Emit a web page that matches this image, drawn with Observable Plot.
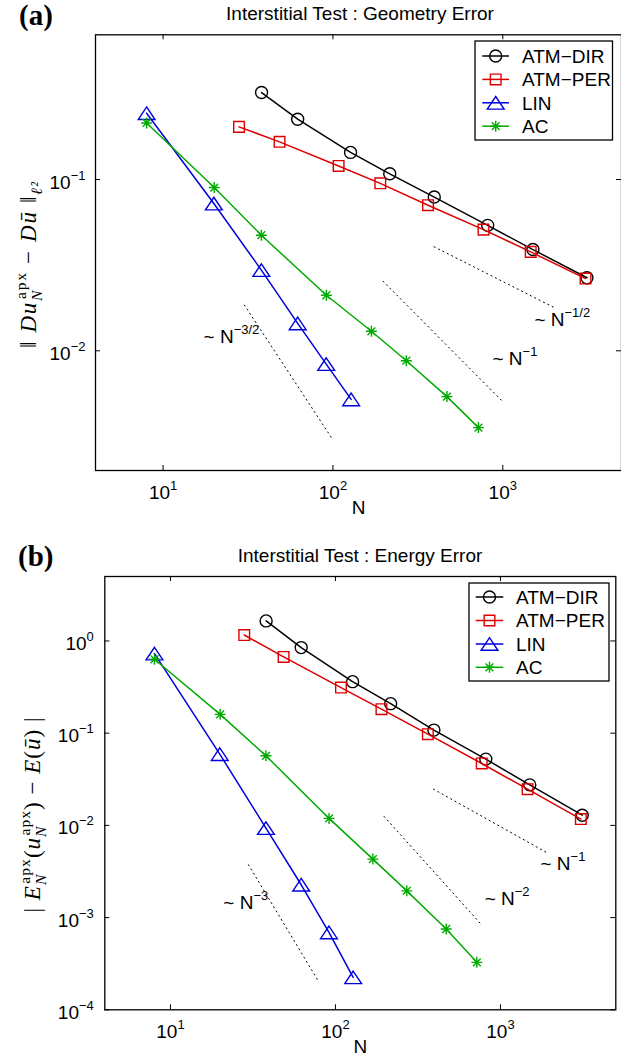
<!DOCTYPE html>
<html>
<head>
<meta charset="utf-8">
<script src="https://cdn.jsdelivr.net/npm/d3@7"></script>
<script src="https://cdn.jsdelivr.net/npm/@observablehq/plot@0.6"></script>
<style>
  html, body { margin: 0; padding: 0; background: #fff; }
  #root { position: relative; width: 621px; height: 1061px; overflow: hidden; background: #fff;
          font-family: "Liberation Sans", Arial, Helvetica, sans-serif; color: #000; }
  .panel { position: absolute; left: 0; }
  .title { position: absolute; transform: translateX(-50%); font-size: 19px; line-height: 19px; white-space: nowrap; }
  .tag { position: absolute; font-family: "Liberation Serif", "Times New Roman", serif; font-weight: bold; font-size: 29px; line-height: 29px; }
</style>
</head>
<body>
<div id="root"></div>
<script>
const FONT = '"Liberation Sans", Arial, Helvetica, sans-serif';
const SERIF = '"Liberation Serif", "Times New Roman", serif';

// ---------- data ----------
const SERIES = ["ATM−DIR", "ATM−PER", "LIN", "AC"];
const COLORS = ["#000000", "#dd0000", "#0000dd", "#00aa00"];

const X_TICKS = [10, 100, 1000];
const GEO_Y_TICKS = [0.1, 0.01];
const EN_Y_TICKS = [1, 0.1, 0.01, 0.001, 0.0001];

const N_ATM_DIR = [38, 62, 127, 216, 395, 815, 1505, 3130];
const N_ATM_PER = [28, 48.5, 108, 190, 363, 770, 1460, 3070];
const N_LIN = [8, 19.9, 37.9, 62, 91.3, 128];
const N_AC = [8, 20, 37.9, 91.5, 168.5, 270.5, 469, 719];

// (a) geometry error
const GEO_ATM_DIR = [0.322, 0.225, 0.144, 0.108, 0.079, 0.054, 0.039, 0.0267];
const GEO_ATM_PER = [0.203, 0.166, 0.120, 0.095, 0.0708, 0.051, 0.0378, 0.0264];
const GEO_LIN = [0.244, 0.0724, 0.0296, 0.01445, 0.00836, 0.0052];
const GEO_AC = [0.214, 0.0898, 0.0473, 0.0211, 0.0130, 0.00875, 0.0054, 0.00356];

// (b) energy error
const EN_ATM_DIR = [1.65, 0.847, 0.362, 0.209, 0.108, 0.0523, 0.0275, 0.0129];
const EN_ATM_PER = [1.16, 0.671, 0.312, 0.182, 0.0975, 0.0469, 0.0247, 0.0117];
const EN_LIN = [0.729, 0.0592, 0.00935, 0.00227, 0.000691, 0.000225];
const EN_AC = [0.633, 0.160, 0.0568, 0.0119, 0.00431, 0.00195, 0.000752, 0.000327];

// reference slope lines (end points) and their labels
const GEO_REF_N = [[394, 2050], [197, 1000], [30.1, 97.6]];
const GEO_REF_ERR = [[0.0405, 0.0177], [0.0255, 0.00505], [0.0185, 0.00313]];
const GEO_REF_LABELS = ["~ N^−1/2", "~ N^−1", "~ N^−3/2"];
const GEO_REF_LABEL_N = [1535, 869, 17.3];
const GEO_REF_LABEL_ERR = [0.01393, 0.00826, 0.01109];

const EN_REF_N = [[393, 1900], [197, 767], [29.7, 78.5]];
const EN_REF_ERR = [[0.0247, 0.00509], [0.0125, 0.000838], [0.00374, 0.000207]];
const EN_REF_LABELS = ["~ N^−1", "~ N^−2", "~ N^−3"];
const EN_REF_LABEL_N = [1747, 802, 20.9];
const EN_REF_LABEL_ERR = [0.00328, 0.00138, 0.00123];

// ---------- symbols ----------
const triSym = {draw(ctx, size) {
  const r = Math.sqrt(size / Math.PI), hw = r * 1.4, hh = r * 1.05;
  ctx.moveTo(0, -hh); ctx.lineTo(hw, hh); ctx.lineTo(-hw, hh); ctx.closePath();
}};
const starSym = {draw(ctx, size) {
  const r = Math.sqrt(size / Math.PI), d = r * Math.SQRT1_2;
  ctx.moveTo(-r, 0); ctx.lineTo(r, 0); ctx.moveTo(0, -r); ctx.lineTo(0, r);
  ctx.moveTo(-d, -d); ctx.lineTo(d, d); ctx.moveTo(-d, d); ctx.lineTo(d, -d);
}};
const SYMBOLS = [d3.symbolCircle, d3.symbolSquare, triSym, starSym];
const SYMBOL_R = [6, 6, 6, 5.5];

// ---------- helpers ----------
const supFmt = d => {
  const e = Math.round(Math.log10(d));
  return `10^${e < 0 ? "−" + (-e) : e}`;
};

function rowsFor(Ns, Vs) {
  const out = [];
  SERIES.forEach((s, i) => Ns[i].forEach((N, j) => out.push({series: s, N, v: Vs[i][j]})));
  return out;
}
function refRowsFor(Ns, Vs) {
  const out = [];
  Ns.forEach((pair, i) => pair.forEach((N, j) => out.push({id: i, N, v: Vs[i][j]})));
  return out;
}

function supify(svg, supSize, raise) {
  svg.querySelectorAll("text").forEach(el => {
    let node = el;
    const tsp = el.querySelectorAll("tspan");
    if (tsp.length) node = tsp[tsp.length - 1];
    const s = node.textContent;
    const k = s.indexOf("^");
    if (k < 0) return;
    node.textContent = s.slice(0, k);
    const ts = document.createElementNS("http://www.w3.org/2000/svg", "tspan");
    ts.setAttribute("dy", -raise);
    ts.setAttribute("font-size", supSize);
    ts.textContent = s.slice(k + 1);
    el.appendChild(ts);
  });
}

function mathLabel(svg, cx, cy, len, size, segs) {
  const t = d3.select(svg).append("text")
    .attr("transform", `translate(${cx},${cy}) rotate(-90)`)
    .attr("text-anchor", "middle")
    .attr("font-family", SERIF).attr("font-size", size)
    .attr("textLength", len).attr("lengthAdjust", "spacing")
    .attr("fill", "black");
  let base = 0;
  for (const s of segs) {
    const off = s.pos === "sub" ? size * 0.28 : s.pos === "sup" ? -size * 0.45 : 0;
    const ts = t.append("tspan").text(s.t)
      .attr("dy", off - base)
      .attr("font-size", s.pos ? size * 0.68 : size)
      .attr("font-style", s.it ? "italic" : "normal");
    if (s.dx) ts.attr("dx", s.dx);
    base = off;
  }
}

function legend(svg, box, rowsY, lx1, lx2, mx, tx) {
  const g = d3.select(svg).append("g").attr("text-anchor", "start");
  g.append("rect").attr("x", box[0]).attr("y", box[1])
    .attr("width", box[2] - box[0]).attr("height", box[3] - box[1])
    .attr("fill", "white").attr("stroke", "black").attr("stroke-width", 1.3);
  SERIES.forEach((s, i) => {
    const y = rowsY[i];
    g.append("line").attr("x1", lx1).attr("x2", lx2).attr("y1", y).attr("y2", y)
      .attr("stroke", COLORS[i]).attr("stroke-width", 1.5);
    g.append("path").attr("transform", `translate(${mx},${y})`)
      .attr("d", d3.symbol(SYMBOLS[i], Math.PI * SYMBOL_R[i] * SYMBOL_R[i])())
      .attr("fill", "none").attr("stroke", COLORS[i]).attr("stroke-width", 1.4);
    g.append("text").attr("x", tx).attr("y", y + 6.8).text(s)
      .attr("text-anchor", "start")
      .attr("font-family", FONT).attr("font-size", 19).attr("fill", "black");
  });
}

function makePanel(o) {
  const W = o.width - o.ml - o.mr, H = o.height - o.mt - o.mb;
  const rows = rowsFor(o.Ns, o.Vs);
  const refRows = refRowsFor(o.refN, o.refV);
  const labRows = o.labT.map((t, i) => ({t, N: o.labN[i], v: o.labV[i]}));
  const marks = [
    Plot.tickX(X_TICKS, {x: d => d, insetTop: H - 5, strokeWidth: 1}),
    Plot.tickX(X_TICKS, {x: d => d, insetBottom: H - 5, strokeWidth: 1}),
    Plot.tickY(o.yTicks, {y: d => d, insetRight: W - 5, strokeWidth: 1}),
    Plot.tickY(o.yTicks, {y: d => d, insetLeft: W - 5, strokeWidth: 1}),
    Plot.axisX({ticks: X_TICKS, tickSize: 0, tickPadding: 14.5, tickFormat: supFmt, label: null, fontSize: 19}),
    Plot.axisY({ticks: o.yTicks, tickSize: 0, tickPadding: o.yPad, tickFormat: supFmt, label: null, fontSize: 19, dy: 3}),
    Plot.text(["N"], {text: d => d, frameAnchor: "bottom", dy: 43.5, fontSize: 19}),
    Plot.line(refRows, {x: "N", y: "v", z: "id", stroke: "black", strokeWidth: 1, strokeDasharray: "1.2,3.7"}),
    Plot.text(labRows, {x: "N", y: "v", text: "t", textAnchor: "start", dy: -6, fontSize: 19})
  ];
  SERIES.forEach((s, i) => {
    const d = rows.filter(r => r.series === s);
    marks.push(Plot.line(d, {x: "N", y: "v", stroke: COLORS[i], strokeWidth: 1.5}));
    marks.push(Plot.dot(d, {x: "N", y: "v", symbol: SYMBOLS[i], r: SYMBOL_R[i], stroke: COLORS[i], strokeWidth: 1.4, fill: "none"}));
  });
  marks.push(Plot.frame({stroke: "black", strokeWidth: 1.3}));
  const svg = Plot.plot({
    width: o.width, height: o.height,
    marginTop: o.mt, marginBottom: o.mb, marginLeft: o.ml, marginRight: o.mr,
    style: {fontFamily: FONT, fontSize: "19px", background: "transparent", overflow: "visible", color: "black"},
    x: {type: "log", domain: [4, 5000]},
    y: {type: "log", domain: o.yDomain},
    marks
  });
  supify(svg, 13, 9);
  return svg;
}

const root = document.getElementById("root");

// ---------- panel (a) ----------
const svgA = makePanel({
  width: 621, height: 540, mt: 34.3, mb: 70, ml: 95, mr: 0,
  yDomain: [0.002, 0.7], yTicks: GEO_Y_TICKS, yPad: 10,
  Ns: [N_ATM_DIR, N_ATM_PER, N_LIN, N_AC],
  Vs: [GEO_ATM_DIR, GEO_ATM_PER, GEO_LIN, GEO_AC],
  refN: GEO_REF_N, refV: GEO_REF_ERR,
  labT: GEO_REF_LABELS, labN: GEO_REF_LABEL_N, labV: GEO_REF_LABEL_ERR
});
mathLabel(svgA, 36, 265, 166, 23, [
  {t: "‖ "}, {t: "D", it: 1}, {t: "u", it: 1}, {t: "N", it: 1, pos: "sub"},
  {t: "apx", pos: "sup", dx: -10}, {t: " − "}, {t: "D", it: 1}, {t: "ū", it: 1},
  {t: " ‖"}, {t: "ℓ²", it: 1, pos: "sub"}
]);
legend(svgA, [475, 41, 612.5, 140], [56, 79.4, 102.8, 126.2], 482.3, 509, 495.7, 522);
const wrapA = document.createElement("div");
wrapA.className = "panel"; wrapA.style.top = "0px";
wrapA.appendChild(svgA); root.appendChild(wrapA);

// ---------- panel (b) ----------
const svgB = makePanel({
  width: 621, height: 521, mt: 36, mb: 51.7, ml: 104.3, mr: 5.7,
  yDomain: [0.0001, 5], yTicks: EN_Y_TICKS, yPad: 11,
  Ns: [N_ATM_DIR, N_ATM_PER, N_LIN, N_AC],
  Vs: [EN_ATM_DIR, EN_ATM_PER, EN_LIN, EN_AC],
  refN: EN_REF_N, refV: EN_REF_ERR,
  labT: EN_REF_LABELS, labN: EN_REF_LABEL_N, labV: EN_REF_LABEL_ERR
});
mathLabel(svgB, 40, 275, 195, 23, [
  {t: "| "}, {t: "E", it: 1}, {t: "N", it: 1, pos: "sub"}, {t: "apx", pos: "sup", dx: -10},
  {t: "("}, {t: "u", it: 1}, {t: "N", it: 1, pos: "sub"}, {t: "apx", pos: "sup", dx: -10},
  {t: ")"}, {t: " − "}, {t: "E", it: 1}, {t: "("}, {t: "ū", it: 1}, {t: ")"}, {t: " |"}
]);
legend(svgB, [469, 43, 609, 141], [57, 80.5, 104, 127.3], 475.7, 503.3, 489.5, 516);
const wrapB = document.createElement("div");
wrapB.className = "panel"; wrapB.style.top = "540px";
wrapB.appendChild(svgB); root.appendChild(wrapB);

// ---------- titles and panel tags ----------
function addDiv(cls, text, left, top) {
  const d = document.createElement("div");
  d.className = cls; d.textContent = text;
  d.style.left = left + "px"; d.style.top = top + "px";
  root.appendChild(d);
}
addDiv("title", "Interstitial Test : Geometry Error", 360, 3.9);
addDiv("title", "Interstitial Test : Energy Error", 360, 545.7);
addDiv("tag", "(a)", 19, 1);
addDiv("tag", "(b)", 18, 542);
</script>
</body>
</html>
